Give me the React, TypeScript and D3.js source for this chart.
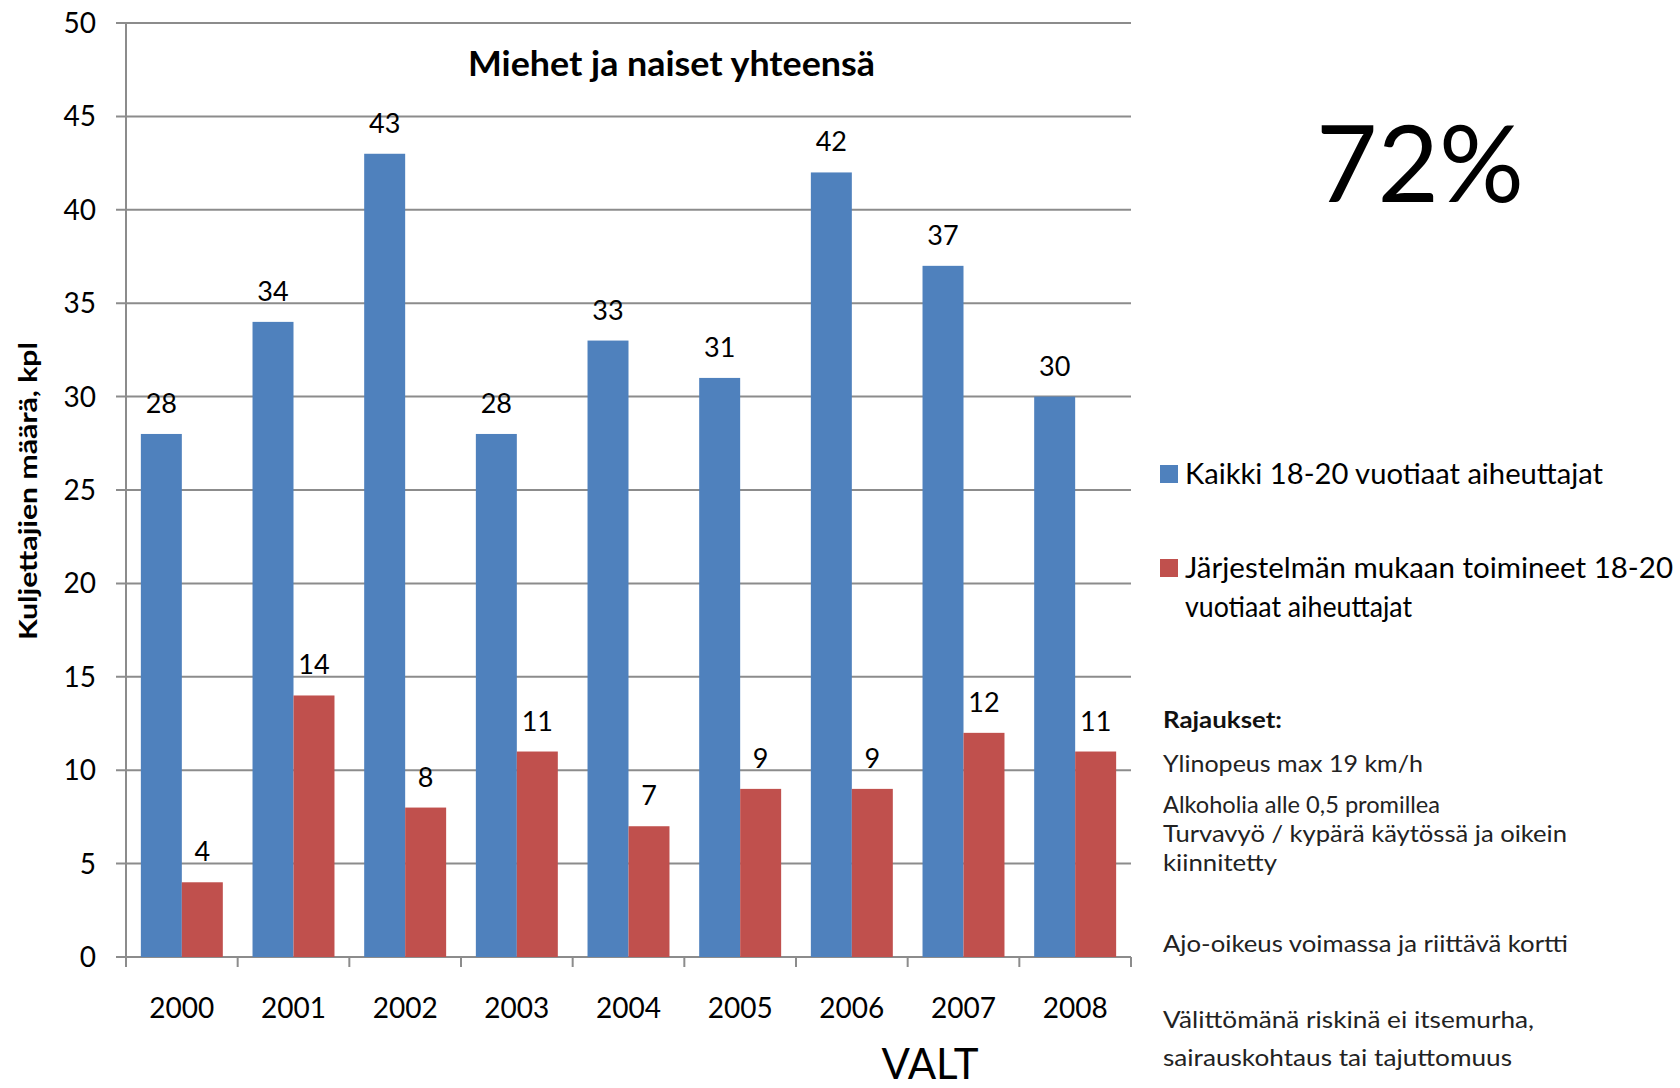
import React from "react";
import * as d3 from "d3";

const years = ["2000", "2001", "2002", "2003", "2004", "2005", "2006", "2007", "2008"];
const allDrivers = [28, 34, 43, 28, 33, 31, 42, 37, 30];
const compliantDrivers = [4, 14, 8, 11, 7, 9, 9, 12, 11];
const yTicks = [0, 5, 10, 15, 20, 25, 30, 35, 40, 45, 50];
const colors = ["#4F81BD", "#C0504D"];
const title = "Miehet ja naiset yhteensä";
const yTitle = "Kuljettajien määrä, kpl";
const bigNumber = "72%";
const source = "VALT";
const legendLines = [
  { text: "Kaikki 18-20 vuotiaat aiheuttajat", y: 484, w: 418, swatch: 0 },
  { text: "Järjestelmän mukaan toimineet 18-20", y: 578, w: 488, swatch: 1 },
  { text: "vuotiaat aiheuttajat", y: 617, w: 227, swatch: -1 },
];
const notesTitle = "Rajaukset:";
const notes = [
  { text: "Ylinopeus max 19 km/h", y: 772, w: 260 },
  { text: "Alkoholia alle 0,5 promillea", y: 813, w: 277 },
  { text: "Turvavyö / kypärä käytössä ja oikein", y: 842, w: 404 },
  { text: "kiinnitetty", y: 871, w: 114 },
  { text: "Ajo-oikeus voimassa ja riittävä kortti", y: 952, w: 405 },
  { text: "Välittömänä riskinä ei itsemurha,", y: 1028, w: 371 },
  { text: "sairauskohtaus tai tajuttomuus", y: 1066, w: 349 },
];

const FONT = "Lato, 'Open Sans', sans-serif";

export default function App() {
  const left = 126;
  const right = 1131;
  const top = 23;
  const bottom = 957;

  const x0 = d3.scaleBand<string>().domain(years).range([left, right]).paddingInner(0.266).paddingOuter(0.133);
  const step = (right - left) / years.length;
  const x1 = d3.scaleBand<number>().domain([0, 1]).range([0, x0.bandwidth()]);
  const y = d3.scaleLinear().domain([0, 50]).range([bottom, top]);
  const series = [allDrivers, compliantDrivers];

  return (
    <svg width={1680} height={1088} style={{ position: "absolute", left: 0, top: 0, background: "#fff" }} fontFamily={FONT}>
      <rect width={1680} height={1088} fill="#fff" />
      {yTicks.map((t) => (
        <g key={t}>
          <line x1={left - 10} x2={right} y1={y(t)} y2={y(t)} stroke="#8c8c8c" strokeWidth={2} />
          <text x={96} y={y(t)} dy="0.36em" textAnchor="end" fontSize={28} fill="#000">
            {t}
          </text>
        </g>
      ))}
      <line x1={left} x2={left} y1={top} y2={bottom} stroke="#8c8c8c" strokeWidth={2} />
      {d3.range(years.length + 1).map((i) => (
        <line key={i} x1={left + i * step} x2={left + i * step} y1={bottom} y2={bottom + 10} stroke="#8c8c8c" strokeWidth={2} />
      ))}
      {years.map((yr, i) => (
        <g key={yr}>
          {series.map((s, k) => {
            const bx = (x0(yr) as number) + (x1(k) as number);
            const bw = x1.bandwidth();
            return (
              <g key={k}>
                <rect x={bx} y={y(s[i])} width={bw} height={bottom - y(s[i])} fill={colors[k]} />
                <text x={bx + bw / 2} y={y(s[i]) - 21} textAnchor="middle" fontSize={27} fill="#000">
                  {s[i]}
                </text>
              </g>
            );
          })}
          <text x={(x0(yr) as number) + x0.bandwidth() / 2} y={1018} textAnchor="middle" fontSize={28} fill="#000">
            {yr}
          </text>
        </g>
      ))}
      <text x={468} y={76} fontSize={34} fontWeight="bold" fill="#000" textLength={407} lengthAdjust="spacingAndGlyphs">
        {title}
      </text>
      <text
        transform={`translate(37,640) rotate(-90)`}
        fontSize={25}
        fontWeight="bold"
        fill="#000"
        textLength={298}
        lengthAdjust="spacingAndGlyphs"
      >
        {yTitle}
      </text>
      <text x={930} y={1079} textAnchor="middle" fontSize={42} fill="#000">
        {source}
      </text>
      <text x={1420} y={202} textAnchor="middle" fontSize={106} fill="#000">
        {bigNumber}
      </text>
      {legendLines.map((l) => (
        <g key={l.text}>
          {l.swatch >= 0 && <rect x={1160} y={l.y - 19} width={18} height={18} fill={colors[l.swatch]} />}
          <text x={1185} y={l.y} fontSize={28} fill="#000" textLength={l.w} lengthAdjust="spacingAndGlyphs">
            {l.text}
          </text>
        </g>
      ))}
      <text x={1163} y={728} fontSize={22} fontWeight="bold" fill="#111" textLength={119} lengthAdjust="spacingAndGlyphs">
        {notesTitle}
      </text>
      {notes.map((n) => (
        <text key={n.text} x={1163} y={n.y} fontSize={23} fill="#222" textLength={n.w} lengthAdjust="spacingAndGlyphs">
          {n.text}
        </text>
      ))}
    </svg>
  );
}
